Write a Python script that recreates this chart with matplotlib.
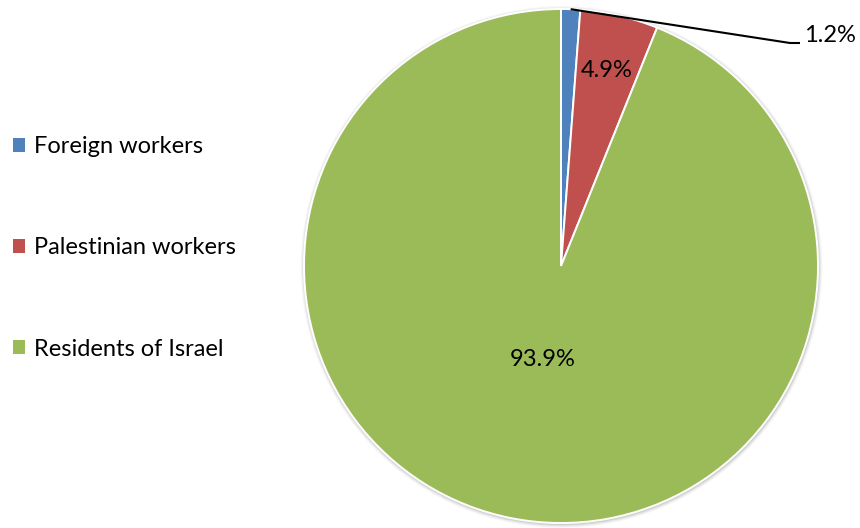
import numpy as np
import matplotlib
matplotlib.use("Agg")
import matplotlib.pyplot as plt
from matplotlib.patches import Patch, Circle

plt.rcParams['font.family'] = ['Lato', 'DejaVu Sans']

labels = ['Foreign workers', 'Palestinian workers', 'Residents of Israel']
shares = [1.2, 4.9, 93.9]
colors = ['#4F81BD', '#C0504D', '#9BBB59']

W, H = 860, 528
fig = plt.figure(figsize=(W / 100, H / 100), dpi=100)
ax = fig.add_axes([0, 0, 1, 1])

cx, cy, r = 561, H - 266, 257

# soft grey shadow around the pie
for dr, a in [(4, 0.05), (3, 0.08), (2, 0.12), (1, 0.18)]:
    ax.add_patch(Circle((cx + 0.5, cy - 1), r + dr, color='#808080', alpha=a, lw=0, zorder=1))

wedges, _ = ax.pie(shares, colors=colors, startangle=90, counterclock=False,
                   center=(cx, cy), radius=r, frame=True,
                   wedgeprops=dict(edgecolor='white', linewidth=1.4))
for w in wedges:
    w.set_zorder(2)
ax.set_xlim(0, W)
ax.set_ylim(0, H)
ax.set_aspect('equal')
ax.axis('off')

def mid(w):
    return np.deg2rad((w.theta1 + w.theta2) / 2)

fs = 17
# inside labels
for w, v, f in [(wedges[1], shares[1], 0.78), (wedges[2], shares[2], 0.37)]:
    t = mid(w)
    ax.text(cx + f * r * np.cos(t), cy + f * r * np.sin(t), f'{v}%',
            ha='center', va='center', fontsize=fs, zorder=5)

# outside label with leader line
t = mid(wedges[0])
x0, y0 = cx + r * np.cos(t), cy + r * np.sin(t)
lx, ly = 800, H - 43
ax.plot([x0, lx - 10, lx], [y0, ly, ly], color='black', lw=1.5, zorder=5,
        solid_capstyle='butt')
ax.text(lx + 4, ly + 8, f'{shares[0]}%', ha='left', va='center', fontsize=fs, zorder=5)

handles = [Patch(facecolor=c, edgecolor='none') for c in colors]
fig.legend(handles, labels, loc='upper left', bbox_to_anchor=(13 / W, 1 - 136 / H),
           frameon=False, fontsize=fs, handlelength=0.52, handleheight=0.52,
           handletextpad=0.38, labelspacing=3.4, borderpad=0, borderaxespad=0)

fig.savefig('out.png', dpi=100, facecolor='white')
